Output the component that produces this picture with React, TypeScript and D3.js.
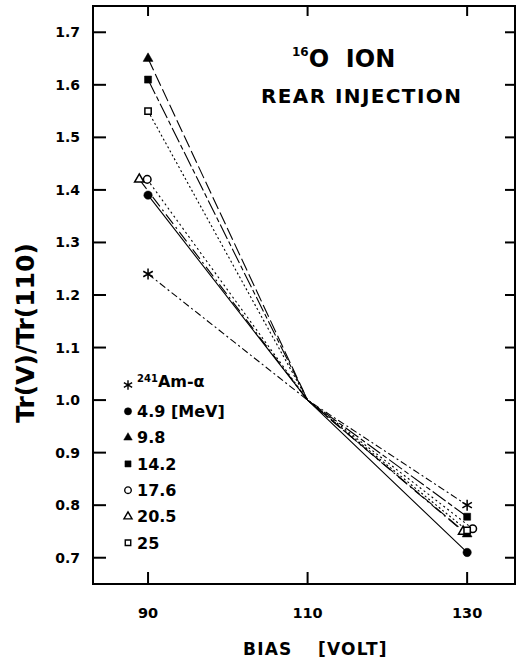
import * as d3 from 'd3'

const BIAS = [90, 110, 130]
const Y_TICKS = [0.7, 0.8, 0.9, 1.0, 1.1, 1.2, 1.3, 1.4, 1.5, 1.6, 1.7]
const X_TICKS = [90, 110, 130]

// Tr(V)/Tr(110), at 90 / 110 / 130 V
const AM = [1.24, 1.0, 0.8]
const E49 = [1.39, 1.0, 0.71]
const E98 = [1.65, 1.0, 0.745]
const E142 = [1.61, 1.0, 0.778]
const E176 = [1.42, 1.0, 0.755]
const E205 = [1.42, 1.0, 0.75]
const E25 = [1.55, 1.0, 0.752]
// the open circle / open triangle were drawn slightly shifted so they don't overlap
const E176_BIAS = [89.9, 110, 130.7]
const E205_BIAS = [88.9, 110, 129.5]

const LABELS = ['4.9 [MeV]', '9.8', '14.2', '17.6', '20.5', '25']

const FONT = '"DejaVu Sans", Verdana, sans-serif'

const W = 517
const H = 660
const M = { left: 93, right: 515, top: 6, bottom: 584 }

const series = [
  { name: 'Am', xs: BIAS, ys: AM, symbol: d3.symbolAsterisk, filled: false, dash: '7,3,2,3', size: 85 },
  { name: LABELS[0], xs: BIAS, ys: E49, symbol: d3.symbolCircle, filled: true, dash: null, size: 55 },
  { name: LABELS[1], xs: BIAS, ys: E98, symbol: d3.symbolTriangle, filled: true, dash: '13,4', size: 42 },
  { name: LABELS[2], xs: BIAS, ys: E142, symbol: d3.symbolSquare, filled: true, dash: '16,3,5,3', size: 50 },
  { name: LABELS[3], xs: E176_BIAS, ys: E176, symbol: d3.symbolCircle, filled: false, dash: '2,3', size: 45 },
  { name: LABELS[4], xs: E205_BIAS, ys: E205, symbol: d3.symbolTriangle, filled: false, dash: '12,4,2,4', size: 38 },
  { name: LABELS[5], xs: BIAS, ys: E25, symbol: d3.symbolSquare, filled: false, dash: '2,2.5', size: 40 },
]

export default function App() {
  const x = d3.scaleLinear().domain([83.1, 136]).range([M.left, M.right])
  const y = d3.scaleLinear().domain([0.65, 1.75]).range([M.bottom, M.top])

  const line = d3.line<[number, number]>()
    .x(d => x(d[0]))
    .y(d => y(d[1]))

  const sym = (s: any, size: number) => d3.symbol().type(s).size(size)() || ''
  const fillOf = (s: any) => (s.filled ? '#000' : s.symbol === d3.symbolAsterisk ? 'none' : '#fff')

  return (
    <svg width={W} height={H} style={{ position: 'absolute', left: 0, top: 0, background: '#fff' }}
      fontFamily={FONT} fontWeight="bold">
      {/* frame */}
      <rect x={M.left} y={M.top} width={M.right - M.left} height={M.bottom - M.top}
        fill="none" stroke="#000" strokeWidth={2} />

      {/* y ticks, both sides */}
      {Y_TICKS.map(t => (
        <g key={`y-${t}`}>
          <line x1={M.left} x2={M.left + 13} y1={y(t)} y2={y(t)} stroke="#000" strokeWidth={2} />
          <line x1={M.right} x2={M.right - 10} y1={y(t)} y2={y(t)} stroke="#000" strokeWidth={2} />
          <text x={80} y={y(t)} dy="0.36em" textAnchor="end" fontSize={14}>{t.toFixed(1)}</text>
        </g>
      ))}

      {/* x ticks, top and bottom */}
      {X_TICKS.map(t => (
        <g key={`x-${t}`}>
          <line x1={x(t)} x2={x(t)} y1={M.bottom} y2={M.bottom - 12} stroke="#000" strokeWidth={2} />
          <line x1={x(t)} x2={x(t)} y1={M.top} y2={M.top + 10} stroke="#000" strokeWidth={2} />
          <text x={x(t)} y={618} textAnchor="middle" fontSize={14.5}>{t}</text>
        </g>
      ))}

      {/* axis titles */}
      <text y={655} fontSize={17} letterSpacing={1.2}>
        <tspan x={243}>BIAS</tspan>
        <tspan x={318}>[VOLT]</tspan>
      </text>
      <text transform="translate(34,333) rotate(-90)" textAnchor="middle" fontSize={25}>Tr(V)/Tr(110)</text>

      {/* header */}
      <text x={292} y={67} fontSize={24} style={{ whiteSpace: 'pre' }}>
        <tspan fontSize={12} dy={-11}>16</tspan>
        <tspan dy={11}>{'O  ION'}</tspan>
      </text>
      <text x={261} y={103} fontSize={20} letterSpacing={1.4} style={{ whiteSpace: 'pre' }}>
        {'REAR INJECTION'}
      </text>

      {/* series */}
      {series.map(s => {
        const pts = s.xs.map((v, i) => [v, s.ys[i]] as [number, number])
        return (
          <g key={s.name}>
            <path d={line(pts) || ''} fill="none" stroke="#000" strokeWidth={1.1}
              strokeDasharray={s.dash || undefined} />
            {pts.filter((_, i) => i !== 1).map((p, i) => (
              <path key={i} transform={`translate(${x(p[0])},${y(p[1])})`} d={sym(s.symbol, s.size)}
                fill={fillOf(s)} stroke="#000" strokeWidth={s.filled ? 0.5 : 1.5} />
            ))}
          </g>
        )
      })}

      {/* legend */}
      {series.map((s, i) => {
        const ly = 385 + i * 26.3
        return (
          <g key={`leg-${s.name}`}>
            <path transform={`translate(128,${ly})`} d={sym(s.symbol, s.size * 0.75)}
              fill={fillOf(s)} stroke="#000" strokeWidth={s.filled ? 0.5 : 1.4} />
            {i === 0 ? (
              <text x={137} y={ly} dy="0.36em" fontSize={16}>
                <tspan fontSize={10} dy="-0.35em">241</tspan>
                <tspan dy="0.35em">Am-α</tspan>
              </text>
            ) : (
              <text x={137} y={ly} dy="0.36em" fontSize={16} style={{ whiteSpace: 'pre' }}>{s.name}</text>
            )}
          </g>
        )
      })}
    </svg>
  )
}
